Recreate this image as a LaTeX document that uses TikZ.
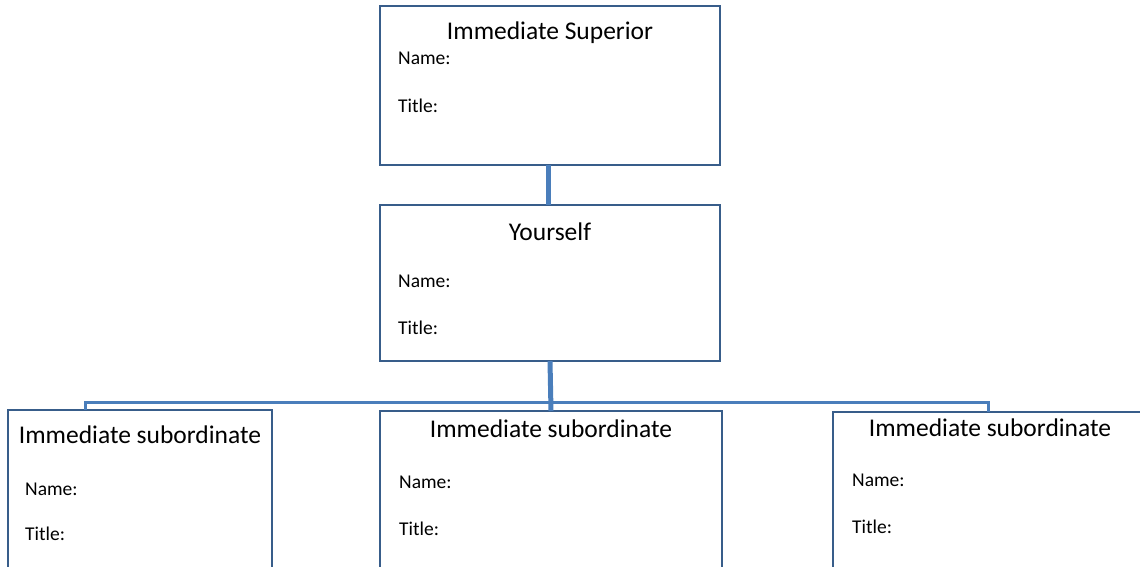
\documentclass[tikz,border=0pt]{standalone}
\usepackage{fontspec}
\setmainfont{Carlito}
\definecolor{boxblue}{HTML}{385D8A}
\definecolor{linkblue}{HTML}{4A7EBB}
\begin{document}
\begin{tikzpicture}[x=1pt,y=-1pt,
  box/.style={draw=boxblue,line width=2pt,fill=white,rectangle,inner sep=0pt,outer sep=0pt,anchor=north west},
  head/.style={font=\fontsize{25.5}{27}\selectfont,anchor=base,inner sep=0pt},
  lbl/.style={font=\fontsize{19.5}{21}\selectfont,anchor=base west,inner sep=0pt},
  link/.style={draw=linkblue,line width=5pt},
  bar/.style={draw=linkblue,line width=3pt}]
\useasboundingbox (0,0) rectangle (1140,567);
% boxes
\node[box,minimum width=340pt,minimum height=159pt] (sup) at (380,6) {};
\node[box,minimum width=340pt,minimum height=156pt] (you) at (380,205) {};
\node[box,minimum width=264pt,minimum height=170pt] (sub1) at (8,410) {};
\node[box,minimum width=342pt,minimum height=170pt] (sub2) at (380,411) {};
\node[box,minimum width=330pt,minimum height=170pt] (sub3) at (833,412) {};
% connectors
\coordinate (barL) at (85,402);
\coordinate (barR) at (988,402);
\draw[bar] (sub1.north -| barL) -- (barL) -- (barR) -- (barR |- sub3.north);
\draw[link] ([xshift=-2pt]sup.south) -- ([xshift=-2pt]you.north);
\draw[link] (you.south) -- (sub2.north);
% texts
\node[head] (supH) at (550,40) {Immediate Superior};
\node[lbl] (supN) at (398,65) {Name:};
\node[lbl] (supT) at (398,113) {Title:};
\node[head] (youH) at (550,240) {Yourself};
\node[lbl] (youN) at (398,287) {Name:};
\node[lbl] (youT) at (398,334) {Title:};
\node[head] (s1H) at (140,443) {Immediate subordinate};
\node[lbl] (s1N) at (25,495) {Name:};
\node[lbl] (s1T) at (25,540) {Title:};
\node[head] (s2H) at (551,437) {Immediate subordinate};
\node[lbl] (s2N) at (399,488) {Name:};
\node[lbl] (s2T) at (399,535) {Title:};
\node[head] (s3H) at (990,436) {Immediate subordinate};
\node[lbl] (s3N) at (852,486) {Name:};
\node[lbl] (s3T) at (852,533) {Title:};
\end{tikzpicture}
\end{document}
